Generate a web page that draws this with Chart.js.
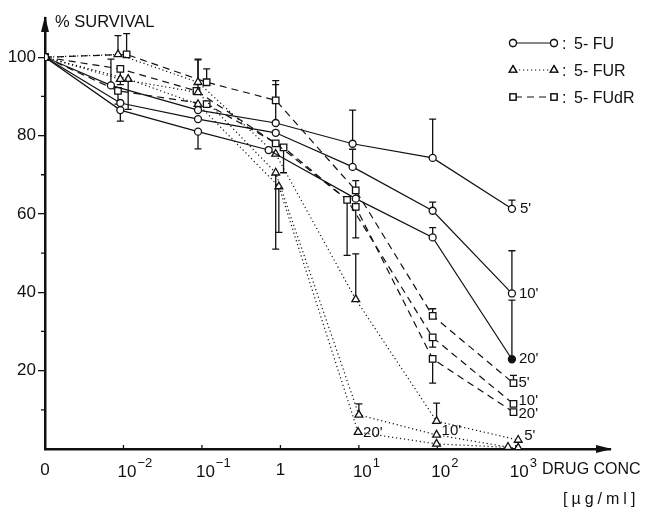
<!DOCTYPE html>
<html>
<head>
<meta charset="utf-8">
<script src="https://cdn.jsdelivr.net/npm/chart.js@4"></script>
<style>
  body { margin: 0; background: #fff; }
  canvas { display: block; }
</style>
</head>
<body>
<canvas id="survivalChart" width="649" height="508"></canvas>
<script>
// x = log10 of drug conc (µg/ml); the "0" concentration sits one decade left of 10^-2
const tickVals = [-3, -2, -1, 0, 1, 2, 3];
const tickBase = ['0', '10', '10', '1', '10', '10', '10'];
const tickSup  = ['', '−2', '−1', '', '1', '2', '3'];
const yTicks = [10, 20, 30, 40, 50, 60, 70, 80, 90, 100];

// 5-FU
const fu5X  = [-3, -2.16, -1.05, -0.06, 0.92, 1.94, 2.95];
const fu5Y  = [100, 92.8, 86.5, 83.2, 77.9, 74.3, 61.3];
const fu5E  = [null, [92.8, 99.5], null, [83.2, 93], [77.9, 86.5], [74.3, 84.2], [61.3, 63.5]];
const fu10X = [-3, -2.04, -1.05, -0.06, 0.92, 1.94, 2.95];
const fu10Y = [100, 88.3, 84.2, 80.7, 72, 60.8, 39.7];
const fu10E = [null, null, null, null, [72, 76.5], [60.8, 63], [39.7, 50.6]];
const fu20X = [-3, -2.04, -1.05, -0.15, 0.96, 1.94, 2.95];
const fu20Y = [100, 86.5, 81, 76.3, 63.9, 54, 22.9];
const fu20E = [null, [83.7, 86.5], [76.6, 81], null, [63.9, 68.5], [54, 56.5], [22.9, 38]];

// 5-FUR
const fur5X  = [-3, -2.07, -1.05, -0.06, 0.96, 1.99, 3.03];
const fur5Y  = [100, 100.7, 93.6, 75.3, 38.2, 7.1, 2.3];
const fur5E  = [null, [100.7, 105.5], [93.6, 99.5], null, [38.2, 49.8], [7.1, 11.7], null];
const fur10X = [-3, -2.04, -1.05, -0.06, 1.0, 1.99, 2.9];
const fur10Y = [100, 94.4, 91, 70.5, 8.7, 3.6, 0.5];
const fur10E = [null, null, [91, 99.3], [51, 70.5], [8.7, 11.5], null, null];
const fur20X = [-3, -1.94, -1.05, -0.02, 0.99, 1.99, 3.03];
const fur20Y = [100, 94.4, 88, 67, 4.3, 1.3, 0.3];
const fur20E = [null, [86.7, 94.4], null, [55.3, 67], null, null, null];

// 5-FUdR
const fudr5X  = [-3, -1.96, -0.94, -0.06, 0.96, 1.94, 2.97];
const fudr5Y  = [100, 100.7, 93.6, 89, 66, 34, 16.8];
const fudr5E  = [null, [100.7, 106], [93.6, 97], [89, 94], null, [34, 35.8], [16.8, 18.8]];
const fudr10X = [-3, -2.04, -1.07, -0.06, 0.85, 1.94, 2.97];
const fudr10Y = [100, 97, 91.4, 78, 63.6, 28.5, 11.5];
const fudr10E = [null, [93, 97], null, null, [49.4, 63.6], [26, 28.5], null];
const fudr20X = [-3, -2.07, -0.94, 0.04, 0.96, 1.94, 2.97];
const fudr20Y = [100, 91.4, 88, 77, 61.8, 23, 9.4];
const fudr20E = [null, [88, 91.4], null, [70.5, 77], [53.9, 61.8], [16.8, 23], null];

const INK = '#111';
const NUM_FONT = '"Liberation Sans Narrow", "Liberation Sans", sans-serif';
const TXT_FONT = '"Liberation Sans", Arial, sans-serif';

function pts(xs, ys) { return xs.map((x, i) => ({ x: x, y: ys[i] })); }

function serie(name, xs, ys, errs, shape, dash, endLabel) {
  return {
    label: name,
    data: pts(xs, ys),
    errBars: errs,
    endLabel: endLabel,
    showLine: true,
    borderColor: INK,
    borderWidth: 1.2,
    borderDash: dash,
    pointStyle: shape,
    pointRadius: shape === 'circle' ? 3.5 : (shape === 'triangle' ? 4.5 : 4.6),
    pointBorderWidth: 1.3,
    pointBorderColor: INK,
    pointBackgroundColor: '#fff'
  };
}

const SOLID = [], DOT = [1.2, 2.8], DASH = [7, 5];

const datasets = [
  serie("5-FU 5'",  fu5X,  fu5Y,  fu5E,  'circle', SOLID, { t: "5'",  dx: 8, dy: 0 }),
  serie("5-FU 10'", fu10X, fu10Y, fu10E, 'circle', SOLID, { t: "10'", dx: 7, dy: 0 }),
  serie("5-FU 20'", fu20X, fu20Y, fu20E, 'circle', SOLID, { t: "20'", dx: 7, dy: 0 }),
  serie("5-FUR 5'",  fur5X,  fur5Y,  fur5E,  'triangle', DOT, { t: "5'",  dx: 6, dy: -4 }),
  serie("5-FUR 10'", fur10X, fur10Y, fur10E, 'triangle', DOT, { t: "10'", dx: 5, dy: -4, idx: 5 }),
  serie("5-FUR 20'", fur20X, fur20Y, fur20E, 'triangle', DOT, { t: "20'", dx: 5, dy: 1, idx: 4 }),
  serie("5-FUdR 5'",  fudr5X,  fudr5Y,  fudr5E,  'rect', DASH, { t: "5'",  dx: 5, dy: 0 }),
  serie("5-FUdR 10'", fudr10X, fudr10Y, fudr10E, 'rect', DASH, { t: "10'", dx: 5, dy: -3 }),
  serie("5-FUdR 20'", fudr20X, fudr20Y, fudr20E, 'rect', DASH, { t: "20'", dx: 5, dy: 2 })
];
// the 20' 5-FU point at 10^3 is drawn filled
datasets[2].pointBackgroundColor = fu20Y.map((_, i) => i === fu20Y.length - 1 ? INK : '#fff');

const decor = {
  id: 'decor',
  beforeDatasetsDraw(chart) {
    const ctx = chart.ctx, xs = chart.scales.x, ys = chart.scales.y;
    ctx.save();
    ctx.strokeStyle = INK;
    ctx.lineWidth = 1.3;
    chart.data.datasets.forEach(ds => {
      (ds.errBars || []).forEach((e, i) => {
        if (!e) return;
        const v = ds.data[i].y;
        const px = xs.getPixelForValue(ds.data[i].x);
        const top = ys.getPixelForValue(e[1]), bot = ys.getPixelForValue(e[0]);
        ctx.beginPath();
        ctx.moveTo(px, top); ctx.lineTo(px, bot);
        if (e[1] > v) { ctx.moveTo(px - 3.5, top); ctx.lineTo(px + 3.5, top); }
        if (e[0] < v) { ctx.moveTo(px - 3.5, bot); ctx.lineTo(px + 3.5, bot); }
        ctx.stroke();
      });
    });
    // short minor ticks on the y axis (odd tens)
    ctx.beginPath();
    yTicks.filter(v => v % 20).forEach(v => {
      const py = ys.getPixelForValue(v);
      ctx.moveTo(chart.chartArea.left - 4, py);
      ctx.lineTo(chart.chartArea.left, py);
    });
    // small marks on the x axis at each decade
    tickVals.slice(1).forEach(v => {
      const px = xs.getPixelForValue(v);
      ctx.moveTo(px, chart.chartArea.bottom);
      ctx.lineTo(px, chart.chartArea.bottom - 4);
    });
    ctx.stroke();
    ctx.restore();
  },
  afterDraw(chart) {
    const ctx = chart.ctx, xs = chart.scales.x;
    const a = chart.chartArea;
    ctx.save();
    ctx.fillStyle = INK;
    ctx.strokeStyle = INK;

    // arrow heads on the axes
    ctx.beginPath();
    ctx.moveTo(a.left, a.top - 2);
    ctx.lineTo(a.left - 4, a.top + 14);
    ctx.lineTo(a.left + 4, a.top + 14);
    ctx.closePath();
    ctx.fill();
    ctx.beginPath();
    ctx.moveTo(a.right + 2, a.bottom);
    ctx.lineTo(a.right - 14, a.bottom - 4);
    ctx.lineTo(a.right - 14, a.bottom + 4);
    ctx.closePath();
    ctx.fill();

    // x tick labels with exponents
    ctx.textBaseline = 'alphabetic';
    tickVals.forEach((v, i) => {
      const px = xs.getPixelForValue(v);
      ctx.font = '17px ' + NUM_FONT;
      if (!tickSup[i]) {
        ctx.textAlign = 'center';
        ctx.fillText(tickBase[i], px, a.bottom + 26);
      } else {
        ctx.textAlign = 'left';
        const x0 = px - 6;
        ctx.fillText(tickBase[i], x0, a.bottom + 28);
        const w = ctx.measureText(tickBase[i]).width;
        ctx.font = '13px ' + NUM_FONT;
        ctx.fillText(tickSup[i], x0 + w + 1, a.bottom + 18);
      }
    });

    // axis titles
    ctx.textAlign = 'left';
    ctx.font = '16.5px ' + TXT_FONT;
    ctx.fillText('% SURVIVAL', 55, 27);
    ctx.font = '16px ' + TXT_FONT;
    ctx.fillText('DRUG CONC', 542, a.bottom + 25);
    ctx.letterSpacing = '4px';
    ctx.fillText('[µg/ml]', 563, a.bottom + 55);
    ctx.letterSpacing = '0px';

    // legend
    const rows = [
      { t: '5- FU',   shape: 'circle',   dash: SOLID, y: 43 },
      { t: '5- FUR',  shape: 'triangle', dash: DOT,   y: 70 },
      { t: '5- FUdR', shape: 'rect',     dash: DASH,  y: 97 }
    ];
    rows.forEach(r => {
      ctx.lineWidth = 1.2;
      ctx.setLineDash(r.dash);
      ctx.beginPath();
      ctx.moveTo(515, r.y); ctx.lineTo(552, r.y);
      ctx.stroke();
      ctx.setLineDash([]);
      ctx.lineWidth = 1.3;
      [513, 554].forEach(mx => {
        ctx.fillStyle = '#fff';
        Chart.helpers.drawPoint(ctx, { pointStyle: r.shape, radius: r.shape === 'circle' ? 3.5 : 4.3, borderWidth: 1.3 }, mx, r.y);
        ctx.fill();
        ctx.stroke();
      });
      ctx.fillStyle = INK;
      ctx.font = '16px ' + TXT_FONT;
      ctx.fillText(':', 562, r.y + 6);
      ctx.fillText(r.t, 574, r.y + 6);
    });

    // exposure-time labels next to the series
    ctx.font = '15px ' + NUM_FONT;
    ctx.textBaseline = 'middle';
    chart.data.datasets.forEach((ds, d) => {
      const L = ds.endLabel;
      if (!L) return;
      const meta = chart.getDatasetMeta(d);
      const i = L.idx !== undefined ? L.idx : ds.data.length - 1;
      const el = meta.data[i];
      ctx.fillText(L.t, el.x + L.dx, el.y + L.dy);
    });
    ctx.restore();
  }
};

new Chart(document.getElementById('survivalChart'), {
  type: 'scatter',
  data: { datasets: datasets },
  options: {
    responsive: false,
    animation: false,
    layout: { padding: { top: 18, right: 39, left: 0, bottom: 0 } },
    plugins: { legend: { display: false }, tooltip: { enabled: false } },
    scales: {
      x: {
        type: 'linear',
        min: -3, max: 4.2,
        afterBuildTicks: s => { s.ticks = tickVals.map(v => ({ value: v })); },
        afterFit: s => { s.height = 59; },
        ticks: { display: false },
        grid: { drawOnChartArea: false, drawTicks: false },
        border: { display: true, color: INK, width: 2.5 }
      },
      y: {
        min: 0, max: 110,
        afterBuildTicks: s => { s.ticks = yTicks.map(v => ({ value: v })); },
        afterFit: s => { s.width = 45; },
        ticks: {
          color: INK,
          padding: 2,
          font: { family: NUM_FONT, size: 17 },
          callback: v => (v % 20 === 0 ? String(v) : '')
        },
        grid: {
          drawOnChartArea: false, drawTicks: true, tickLength: 7, lineWidth: 1.3,
          tickColor: c => (c.tick && c.tick.value % 20 ? 'rgba(0,0,0,0)' : INK)
        },
        border: { display: true, color: INK, width: 2.5 }
      }
    }
  },
  plugins: [decor]
});
</script>
</body>
</html>
